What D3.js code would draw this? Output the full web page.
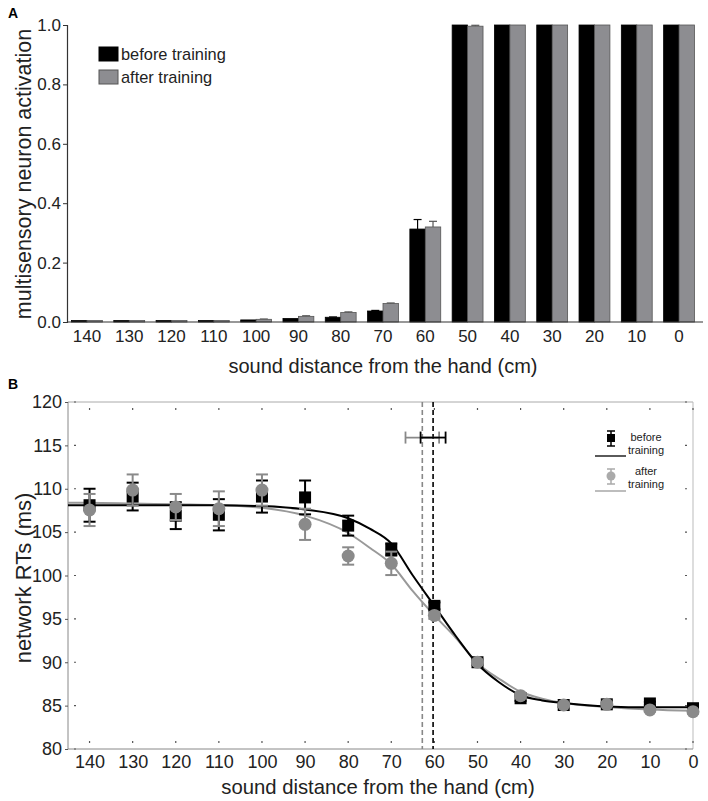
<!DOCTYPE html>
<html><head><meta charset="utf-8">
<script src="https://cdn.jsdelivr.net/npm/d3@7"></script>
<style>body{margin:0;background:#fff}svg{display:block;font-family:"Liberation Sans",Arial,sans-serif}</style>
</head><body><svg id="c" width="708" height="801"></svg>
<script>
// ---------- data ----------
const distances = [140,130,120,110,100,90,80,70,60,50,40,30,20,10,0];
const seriesNames = ["before training","after training"];
// Panel A: multisensory neuron activation
const actBefore    = [0.005,0.005,0.005,0.005,0.007,0.012,0.016,0.037,0.313,1.0,1.0,1.0,1.0,1.0,1.0];
const actAfter     = [0.005,0.005,0.005,0.005,0.009,0.019,0.032,0.062,0.320,0.996,1.0,1.0,1.0,1.0,1.0];
const actBeforeErr = [0,0,0,0,0,0,0.001,0.002,0.032,0,0,0,0,0,0];
const actAfterErr  = [0,0,0,0,0.001,0.002,0.002,0.002,0.019,0.003,0,0,0,0,0];
const actTicks = [0,0.2,0.4,0.6,0.8,1.0];
// Panel B: network RTs (ms)
const rtBefore    = [108.1,109.1,106.9,107.0,109.1,109.0,105.75,103.0,96.5,90.0,85.85,85.07,85.15,85.25,84.7];
const rtBeforeErr = [1.9,1.6,1.55,1.8,1.85,1.95,1.15,0.7,0.4,0.3,0.3,0.2,0.2,0.2,0.2];
const rtAfter     = [107.55,109.85,107.9,107.7,109.85,105.9,102.25,101.4,95.4,90.0,86.15,85.07,85.15,84.5,84.3];
const rtAfterErr  = [1.85,1.8,1.5,2.0,1.8,1.8,1.0,1.35,0.4,0.3,0.3,0.2,0.2,0.2,0.2];
// fitted curves
const fitX      = [145,140,130,120,110,100,90,80,75,70,65,60,55,50,45,40,35,30,20,10,0];
const fitBefore = [108.1,108.1,108.1,108.1,108.1,108.0,107.6,106.6,105.4,103.7,100.0,96.5,93.0,89.8,87.7,86.2,85.6,85.3,84.9,84.8,84.8];
const fitAfter  = [108.4,108.4,108.3,108.2,108.1,107.8,106.9,104.9,103.2,101.3,98.2,95.4,92.8,89.9,88.1,86.6,85.8,85.3,84.85,84.55,84.4];
// thresholds (vertical dashed lines) with horizontal error bars
const thresholds   = [60.3, 62.8];
const thresholdErr = [2.9, 3.9];
const thresholdRT  = 115.9;
const rtTicks = [80,85,90,95,100,105,110,115,120];

// ---------- drawing ----------
const svg = d3.select("#c");
const font = "Liberation Sans, Arial, sans-serif";

// ===== Panel A =====
const A = {l:67, r:700, t:25, b:322};
const xA = d3.scaleBand().domain(distances).range([66,700]).paddingInner(0.27).paddingOuter(0.13);
const xA2 = d3.scaleBand().domain([0,1]).range([0,xA.bandwidth()]);
const yA = d3.scaleLinear().domain([0,1]).range([A.b,A.t]);

svg.append("text").attr("x",8).attr("y",18).attr("font-weight","bold").attr("font-size",14).text("A");

const gA = svg.append("g");
const colsA = ["#000","#8d8d91"];
const strokesA = ["#000","#555"];
[actBefore, actAfter].forEach((vals,si)=>{
  const errs = si===0?actBeforeErr:actAfterErr;
  distances.forEach((d,i)=>{
    const x0 = xA(d)+xA2(si), w = xA2.bandwidth();
    const cx = x0 + w/2;
    if (errs[i]>0){
      gA.append("line").attr("x1",cx).attr("x2",cx).attr("y1",yA(vals[i])).attr("y2",yA(vals[i]+errs[i])).attr("stroke",strokesA[si]).attr("stroke-width",1.2);
      gA.append("line").attr("x1",cx-4).attr("x2",cx+4).attr("y1",yA(vals[i]+errs[i])).attr("y2",yA(vals[i]+errs[i])).attr("stroke",strokesA[si]).attr("stroke-width",1.2);
    }
    gA.append("rect").attr("x",x0).attr("width",w).attr("y",yA(vals[i])).attr("height",A.b-yA(vals[i]))
      .attr("fill",colsA[si]).attr("stroke",strokesA[si]).attr("stroke-width",0.8);
  });
});
// y axis A
const axA = svg.append("g").attr("transform",`translate(${A.l},0)`)
  .call(d3.axisLeft(yA).tickValues(actTicks).tickFormat(d3.format(".1f")).tickSize(4).tickPadding(2));
axA.select(".domain").attr("stroke","#333").attr("stroke-width",1.2);
axA.selectAll(".tick line").attr("stroke","#333");
axA.selectAll("text").attr("font-size",17).attr("font-family",font).attr("fill","#222");
// x axis A
const axAx = svg.append("g").attr("transform",`translate(0,${A.b})`)
  .call(d3.axisBottom(xA).tickSize(0).tickPadding(8));
axAx.select(".domain").attr("d",`M${A.l},0H703`).attr("stroke","#333").attr("stroke-width",1.2);
axAx.selectAll("text").attr("font-size",17).attr("font-family",font).attr("fill","#222");
svg.append("text").attr("x",383).attr("y",373).attr("text-anchor","middle").attr("font-size",20).attr("fill","#222").text("sound distance from the hand (cm)");
svg.append("text").attr("transform","translate(31,174) rotate(-90)").attr("text-anchor","middle").attr("font-size",21.5).attr("fill","#222").text("multisensory neuron activation");
// legend A
seriesNames.forEach((n,i)=>{
  const y = 47 + i*23;
  svg.append("rect").attr("x",99).attr("y",y).attr("width",19).attr("height",14).attr("fill",colsA[i]).attr("stroke",strokesA[i]);
  svg.append("text").attr("x",121).attr("y",y+13).attr("font-size",16.4).attr("fill","#222").text(n);
});

// ===== Panel B =====
const B = {l:68, r:693, t:402, b:749};
const xB = d3.scaleLinear().domain([145,0]).range([B.l,B.r]);
const yB = d3.scaleLinear().domain([80,120]).range([B.b,B.t]);

svg.append("text").attr("x",8).attr("y",389).attr("font-weight","bold").attr("font-size",14).text("B");

// frame
svg.append("line").attr("x1",B.l).attr("x2",B.r).attr("y1",B.t).attr("y2",B.t).attr("stroke","#aaa");
svg.append("line").attr("x1",B.r).attr("x2",B.r).attr("y1",B.t).attr("y2",B.b).attr("stroke","#bbb");
svg.append("line").attr("x1",B.l).attr("x2",B.l).attr("y1",B.t).attr("y2",B.b).attr("stroke","#888");
svg.append("line").attr("x1",B.l).attr("x2",B.r).attr("y1",B.b).attr("y2",B.b).attr("stroke","#888");
// small inner ticks
const tk = svg.append("g").attr("stroke","#555").attr("stroke-width",1.2);
distances.forEach(d=>{
  tk.append("line").attr("x1",xB(d)).attr("x2",xB(d)).attr("y1",B.t+6).attr("y2",B.t+8);
  tk.append("line").attr("x1",xB(d)).attr("x2",xB(d)).attr("y1",B.b-8).attr("y2",B.b-6);
});
rtTicks.forEach(v=>{
  tk.append("line").attr("x1",B.l+6).attr("x2",B.l+8).attr("y1",yB(v)).attr("y2",yB(v));
  tk.append("line").attr("x1",B.r-8).attr("x2",B.r-6).attr("y1",yB(v)).attr("y2",yB(v));
});
// tick labels
const axBy = svg.append("g").attr("transform",`translate(${B.l},0)`)
  .call(d3.axisLeft(yB).tickValues(rtTicks).tickSize(3).tickPadding(3));
axBy.select(".domain").remove();
axBy.selectAll(".tick line").attr("stroke","#555");
axBy.selectAll("text").attr("font-size",18).attr("font-family",font).attr("fill","#222");
const axBx = svg.append("g").attr("transform",`translate(0,${B.b})`)
  .call(d3.axisBottom(xB).tickValues(distances).tickSize(0).tickPadding(6));
axBx.select(".domain").remove();
axBx.selectAll("text").attr("font-size",18).attr("font-family",font).attr("fill","#222");
svg.append("text").attr("x",378).attr("y",794).attr("text-anchor","middle").attr("font-size",20.3).attr("fill","#222").text("sound distance from the hand (cm)");
svg.append("text").attr("transform","translate(31,578) rotate(-90)").attr("text-anchor","middle").attr("font-size",22).attr("fill","#222").text("network RTs (ms)");

// threshold dashed lines
const thCols = ["#000","#888"];
thresholds.forEach((t,i)=>{
  svg.append("line").attr("x1",xB(t)).attr("x2",xB(t)).attr("y1",B.t).attr("y2",B.b)
    .attr("stroke",thCols[i]).attr("stroke-width",1.6).attr("stroke-dasharray","5,3");
});
// horizontal error bars of thresholds
[1,0].forEach(i=>{
  const g = svg.append("g").attr("stroke",thCols[i]).attr("stroke-width",1.8);
  const y = yB(thresholdRT);
  g.append("line").attr("x1",xB(thresholds[i]+thresholdErr[i])).attr("x2",xB(thresholds[i]-thresholdErr[i])).attr("y1",y).attr("y2",y);
  [thresholds[i]+thresholdErr[i], thresholds[i]-thresholdErr[i]].forEach(v=>{
    g.append("line").attr("x1",xB(v)).attr("x2",xB(v)).attr("y1",y-6).attr("y2",y+6);
  });
});

// fitted curves
const line = d3.line().x(d=>xB(d[0])).y(d=>yB(d[1])).curve(d3.curveMonotoneX);
svg.append("path").attr("d",line(fitX.map((x,i)=>[x,fitAfter[i]]))).attr("fill","none").attr("stroke","#999").attr("stroke-width",2);
svg.append("path").attr("d",line(fitX.map((x,i)=>[x,fitBefore[i]]))).attr("fill","none").attr("stroke","#000").attr("stroke-width",2);

// data points with error bars
function errbar(g,x,v,e,col,cap){
  g.append("line").attr("x1",x).attr("x2",x).attr("y1",yB(v-e)).attr("y2",yB(v+e)).attr("stroke",col).attr("stroke-width",2);
  [v-e,v+e].forEach(w=>g.append("line").attr("x1",x-cap).attr("x2",x+cap).attr("y1",yB(w)).attr("y2",yB(w)).attr("stroke",col).attr("stroke-width",2));
}
const gb = svg.append("g");
distances.forEach((d,i)=>{
  errbar(gb,xB(d),rtBefore[i],rtBeforeErr[i],"#000",6);
  gb.append("rect").attr("x",xB(d)-6).attr("y",yB(rtBefore[i])-6).attr("width",12).attr("height",12).attr("fill","#000");
});
const ga = svg.append("g");
distances.forEach((d,i)=>{
  errbar(ga,xB(d),rtAfter[i],rtAfterErr[i],"#8a8a8a",6);
  ga.append("circle").attr("cx",xB(d)).attr("cy",yB(rtAfter[i])).attr("r",6.5).attr("fill","#8a8a8a");
});

// legend B
const legB = svg.append("g");
const legCols = ["#000","#aaa"];
const legText = [["before","training"],["after","training"]];
const legMarkerY = [438, 476];
const legTextY = [[441,454],[475,488]];
const legLineY = [456, 491];
[0,1].forEach(i=>{
  const cy = legMarkerY[i];
  legB.append("line").attr("x1",611).attr("x2",611).attr("y1",cy-7).attr("y2",cy+8).attr("stroke",legCols[i]).attr("stroke-width",1.5);
  [cy-7,cy+8].forEach(y=>legB.append("line").attr("x1",607).attr("x2",615).attr("y1",y).attr("y2",y).attr("stroke",legCols[i]).attr("stroke-width",1.5));
  if(i===0) legB.append("rect").attr("x",607).attr("y",cy-4).attr("width",8).attr("height",8).attr("fill","#000");
  else legB.append("circle").attr("cx",611).attr("cy",cy).attr("r",4.5).attr("fill","#aaa");
  legB.append("line").attr("x1",595).attr("x2",626).attr("y1",legLineY[i]).attr("y2",legLineY[i]).attr("stroke",i===0?"#000":"#999").attr("stroke-width",1.3);
  legB.append("text").attr("x",646).attr("y",legTextY[i][0]).attr("text-anchor","middle").attr("font-size",11).attr("fill","#222").text(legText[i][0]);
  legB.append("text").attr("x",646).attr("y",legTextY[i][1]).attr("text-anchor","middle").attr("font-size",11).attr("fill","#222").text(legText[i][1]);
});
</script></body></html>
